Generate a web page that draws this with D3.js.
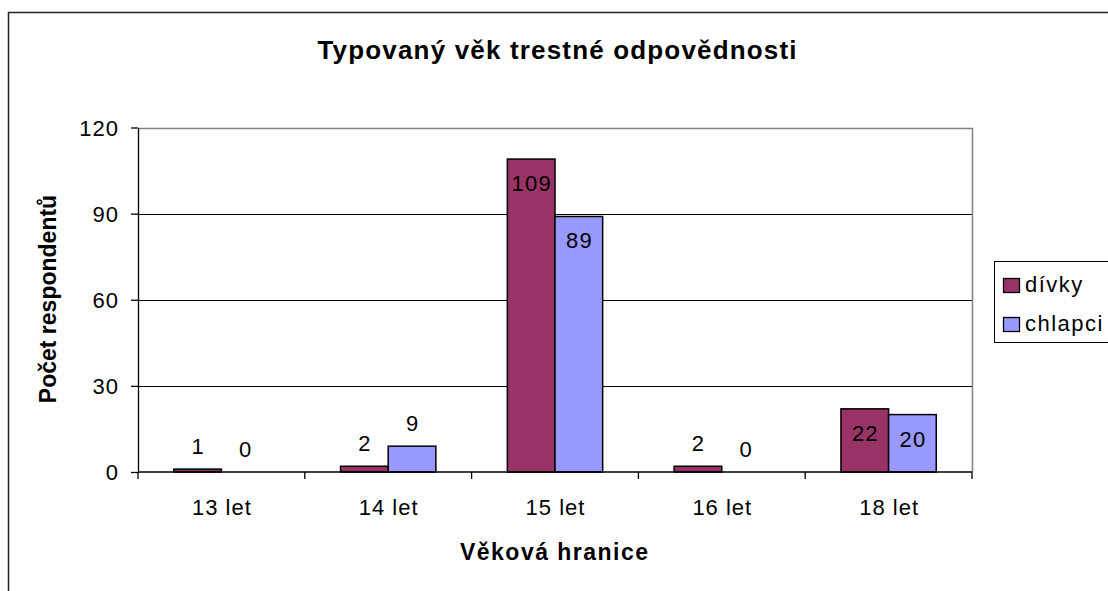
<!DOCTYPE html>
<html>
<head>
<meta charset="utf-8">
<script src="https://cdn.jsdelivr.net/npm/d3@7"></script>
<style>
  body { margin: 0; background: #fff; }
  svg { font-family: "Liberation Sans", Arial, sans-serif; }
</style>
</head>
<body>
<svg width="1108" height="591"></svg>
<script>
var categories = ["13 let", "14 let", "15 let", "16 let", "18 let"];
var series = ["dívky", "chlapci"];
var divky = [1, 2, 109, 2, 22];
var chlapci = [0, 9, 89, 0, 20];
var yTicks = [0, 30, 60, 90, 120];
var colors = ["#993366", "#9999ff"];

var svg = d3.select("svg"),
    plotLeft = 138, plotRight = 972, plotTop = 127.5, plotBottom = 472;

// outer chart border
svg.append("rect")
    .attr("x", 8.5).attr("y", 12.5)
    .attr("width", 1120).attr("height", 600)
    .attr("fill", "none").attr("stroke", "#222").attr("stroke-width", 1.5);

var x0 = d3.scaleBand().domain(categories).range([plotLeft, plotRight]).padding(0);
var x1 = d3.scaleBand().domain(series).range([0, x0.bandwidth()])
    .paddingInner(0).paddingOuter(0.75);
var y = d3.scaleLinear().domain([0, 120]).range([plotBottom, plotTop]);

// gridlines
svg.append("g").selectAll("line")
    .data(yTicks.filter(function(d) { return d > 0 && d < 120; }))
    .enter().append("line")
    .attr("x1", plotLeft).attr("x2", plotRight)
    .attr("y1", function(d) { return Math.round(y(d)) + 0.5; })
    .attr("y2", function(d) { return Math.round(y(d)) + 0.5; })
    .attr("stroke", "#000");

// plot area border (gray)
svg.append("path")
    .attr("d", "M" + plotLeft + "," + (Math.round(plotTop) + 0.5) + "H" + (plotRight + 0.5) + "V" + plotBottom)
    .attr("fill", "none").attr("stroke", "#808080").attr("stroke-width", 1.5);

var rows = categories.map(function(c, i) {
  return { cat: c, vals: [divky[i], chlapci[i]] };
});

var groups = svg.append("g").selectAll("g")
    .data(rows).enter().append("g")
    .attr("transform", function(d) { return "translate(" + x0(d.cat) + ",0)"; });

groups.selectAll("rect")
    .data(function(d) { return d.vals.map(function(v, j) { return { s: series[j], v: v, j: j }; }); })
    .enter().filter(function(d) { return d.v > 0; }).append("rect")
    .attr("x", function(d) { return x1(d.s); })
    .attr("y", function(d) { return y(d.v); })
    .attr("width", x1.bandwidth())
    .attr("height", function(d) { return plotBottom - y(d.v); })
    .attr("fill", function(d) { return colors[d.j]; })
    .attr("stroke", "#000").attr("stroke-width", 1.5);

groups.selectAll("text")
    .data(function(d) { return d.vals.map(function(v, j) { return { s: series[j], v: v }; }); })
    .enter().append("text")
    .attr("x", function(d) { return x1(d.s) + x1.bandwidth() / 2 + 0.6; })
    .attr("y", function(d) { return d.v > 15 ? y(d.v) + 32 : y(d.v) - 15; })
    .attr("text-anchor", "middle")
    .attr("font-size", 22).attr("letter-spacing", 1.2)
    .text(function(d) { return d.v; });

// y axis
var yAxis = svg.append("g")
    .attr("transform", "translate(" + plotLeft + ",0)")
    .call(d3.axisLeft(y).tickValues(yTicks).tickSize(7).tickPadding(12).tickSizeOuter(0));
yAxis.selectAll("text").attr("font-size", 22).attr("letter-spacing", 1).attr("fill", "#000")
    .attr("font-family", null).attr("dy", "0.36em");
yAxis.selectAll("line,path").attr("stroke", "#000").attr("stroke-width", 1.3);

// x axis with ticks at category boundaries
var xAxis = svg.append("g")
    .attr("transform", "translate(0," + plotBottom + ")");
xAxis.append("line").attr("x1", plotLeft).attr("x2", plotRight).attr("stroke", "#000").attr("stroke-width", 1.3);
xAxis.selectAll(".tk")
    .data(categories.map(function(c) { return x0(c); }).concat([plotRight]))
    .enter().append("line").attr("class", "tk")
    .attr("x1", function(d) { return d; }).attr("x2", function(d) { return d; })
    .attr("y1", 0).attr("y2", 7)
    .attr("stroke", "#000").attr("stroke-width", 1.3);
xAxis.selectAll("text")
    .data(categories).enter().append("text")
    .attr("x", function(d) { return x0(d) + x0.bandwidth() / 2 + 0.5; })
    .attr("y", 43)
    .attr("text-anchor", "middle")
    .attr("font-size", 22).attr("letter-spacing", 1)
    .text(function(d) { return d; });

// titles
svg.append("text")
    .attr("x", 557).attr("y", 59)
    .attr("text-anchor", "middle")
    .attr("font-size", 26).attr("font-weight", "bold")
    .attr("textLength", 479).attr("lengthAdjust", "spacing")
    .text("Typovaný věk trestné odpovědnosti");

svg.append("text")
    .attr("x", 554).attr("y", 560)
    .attr("text-anchor", "middle")
    .attr("font-size", 23).attr("font-weight", "bold")
    .attr("textLength", 188).attr("lengthAdjust", "spacing")
    .text("Věková hranice");

svg.append("text")
    .attr("transform", "translate(56,299) rotate(-90)")
    .attr("text-anchor", "middle")
    .attr("font-size", 23).attr("font-weight", "bold")
    .text("Počet respondentů");

// legend
var legend = svg.append("g").attr("transform", "translate(994,261)");
legend.append("rect")
    .attr("x", 0.5).attr("y", 0.5).attr("width", 130).attr("height", 81)
    .attr("fill", "#fff").attr("stroke", "#000");
var items = legend.selectAll(".item")
    .data(series).enter().append("g")
    .attr("transform", function(d, i) { return "translate(0," + (i * 39) + ")"; });
items.append("rect")
    .attr("x", 9.5).attr("y", 17.5).attr("width", 16).attr("height", 14)
    .attr("fill", function(d, i) { return colors[i]; })
    .attr("stroke", "#000").attr("stroke-width", 1.3);
items.append("text")
    .attr("x", 31).attr("y", 31)
    .attr("font-size", 22).attr("letter-spacing", 1.5)
    .text(function(d) { return d; });
</script>
</body>
</html>
